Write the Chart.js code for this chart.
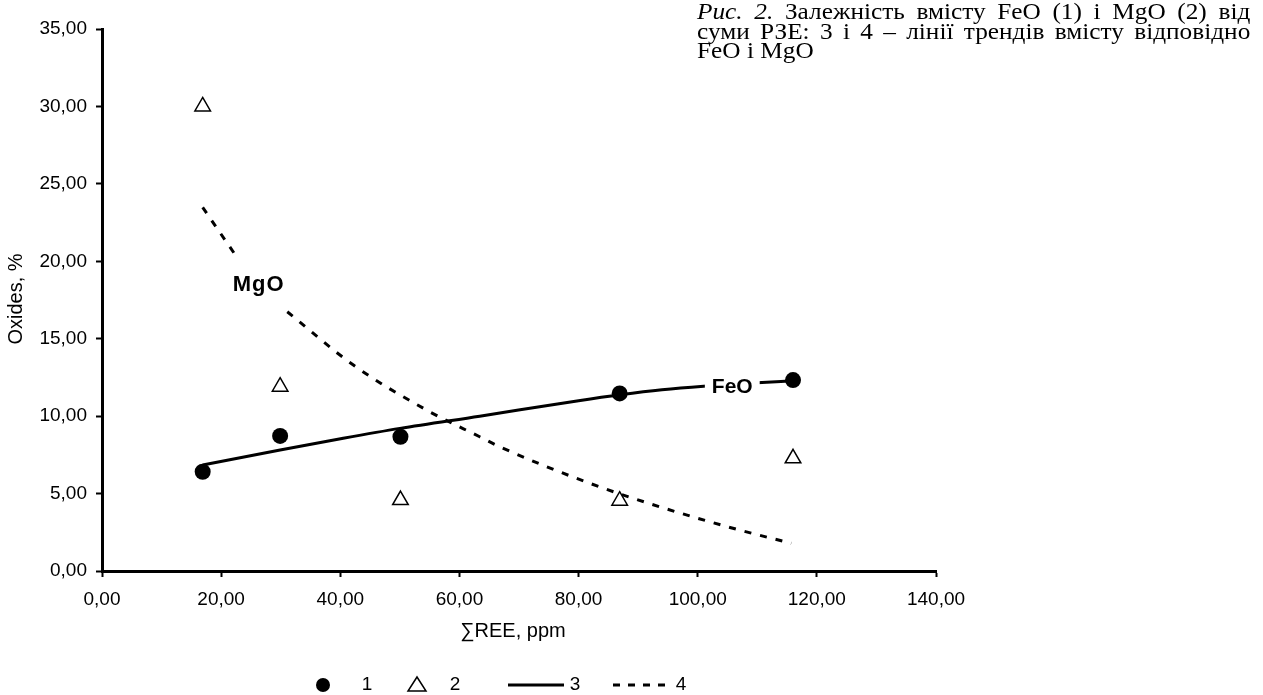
<!DOCTYPE html>
<html>
<head>
<meta charset="utf-8">
<title>FeO MgO vs REE</title>
<script src="https://cdn.jsdelivr.net/npm/chart.js@4.4.1/dist/chart.umd.min.js"></script>
<style>
  html, body { margin: 0; padding: 0; background: #fff; }
  #wrap { position: relative; width: 1263px; height: 695px; }
  #caption {
    position: absolute; left: 697px; top: 2px; width: 503px;
    font-family: "Liberation Serif", "Times New Roman", serif;
    font-size: 23px; line-height: 19.5px; color: #000;
    transform: scaleX(1.1); transform-origin: left top;
  }
  #caption .j { text-align: justify; text-align-last: justify; }
</style>
</head>
<body>
<div id="wrap">
  <canvas id="oxideChart" width="1263" height="695"></canvas>
  <div id="caption">
    <div class="j"><i>Рис. 2.</i> Залежність вмісту FeO (1) і MgO (2) від</div>
    <div class="j">суми РЗЕ: 3 і 4 – лінії трендів вмісту відповідно</div>
    <div>FeO і MgO</div>
  </div>
</div>
<script>
// measured samples
const reeSum = [16.9, 29.9, 50.1, 86.9, 116.0];
const feoValues = [6.41, 8.72, 8.67, 11.47, 12.33];
const mgoValues = [30.0, 11.9, 4.58, 4.54, 7.28];

// trend lines (null = gap under the MgO label)
const feoTrendX = [16.9, 29.9, 40.5, 50.0, 63.4, 80.0, 87.0, 94.0, 101.0, 110.0, 116.0];
const feoTrendY = [6.84, 7.81, 8.57, 9.21, 10.0, 11.0, 11.38, 11.7, 11.93, 12.15, 12.29];
const mgoTrendX = [16.9, 22.9, 27.0, 31.1, 42.2, 54.5, 63.4, 66.8, 81.9, 93.6, 105.9, 115.7];
const mgoTrendY = [23.48, 20.12, null, 16.74, 13.30, 10.39, 8.67, 8.02, 5.66, 4.15, 2.76, 1.79];

const xTickValues = [0, 20, 40, 60, 80, 100, 120, 140];
const yTickValues = [0, 5, 10, 15, 20, 25, 30, 35];
const legendLabels = ['1', '2', '3', '4'];

const sansFont = '"Liberation Sans", Arial, sans-serif';

function toPoints(xs, ys) {
    return xs.map((x, i) => ({ x: x, y: ys[i] }));
}

function formatComma(value) {
    return Number(value).toFixed(2).replace('.', ',');
}

// axis titles, inline curve labels and the bottom legend
const decorPlugin = {
    id: 'decor',
    afterDatasetsDraw(chart) {
        const ctx = chart.ctx;
        const xs = chart.scales.x;
        const ys = chart.scales.y;
        ctx.save();
        ctx.fillStyle = '#000';
        ctx.textBaseline = 'middle';

        // FeO label sits on the trend line with a white box
        ctx.font = 'bold 21px ' + sansFont;
        ctx.textAlign = 'center';
        const fx = xs.getPixelForValue(105.8);
        const fy = ys.getPixelForValue(11.94);
        const fw = ctx.measureText('FeO').width;
        ctx.fillStyle = '#fff';
        ctx.fillRect(fx - fw / 2 - 7, fy - 11, fw + 14, 22);
        ctx.fillStyle = '#000';
        ctx.fillText('FeO', fx, fy + 1);

        // MgO label
        ctx.font = 'bold 22px ' + sansFont;
        ctx.letterSpacing = '1px';
        ctx.fillText('MgO', xs.getPixelForValue(26.3), ys.getPixelForValue(18.5));
        ctx.letterSpacing = '0px';
        ctx.restore();
    },
    afterDraw(chart) {
        const ctx = chart.ctx;
        const area = chart.chartArea;
        ctx.save();
        ctx.fillStyle = '#000';
        ctx.strokeStyle = '#000';
        ctx.textBaseline = 'middle';
        ctx.textAlign = 'center';

        // axis titles
        ctx.font = '20px ' + sansFont;
        ctx.fillText('\u2211REE, ppm', (area.left + area.right) / 2 - 6, 631);
        ctx.save();
        ctx.translate(16, 299);
        ctx.rotate(-Math.PI / 2);
        ctx.fillText('Oxides, %', 0, 0);
        ctx.restore();

        // legend
        const ly = 685;
        ctx.font = '19px ' + sansFont;
        ctx.beginPath();
        ctx.arc(323, ly, 7, 0, Math.PI * 2);
        ctx.fill();
        ctx.fillText(legendLabels[0], 367, ly);

        ctx.lineWidth = 1.5;
        ctx.beginPath();
        ctx.moveTo(417, ly - 8);
        ctx.lineTo(426, ly + 6);
        ctx.lineTo(408, ly + 6);
        ctx.closePath();
        ctx.stroke();
        ctx.fillText(legendLabels[1], 455, ly);

        ctx.lineWidth = 3;
        ctx.beginPath();
        ctx.moveTo(508, ly);
        ctx.lineTo(564, ly);
        ctx.stroke();
        ctx.fillText(legendLabels[2], 575, ly);

        ctx.setLineDash([7, 8]);
        ctx.beginPath();
        ctx.moveTo(613, ly);
        ctx.lineTo(671, ly);
        ctx.stroke();
        ctx.setLineDash([]);
        ctx.fillText(legendLabels[3], 681, ly);
        ctx.restore();
    }
};

const ctx = document.getElementById('oxideChart').getContext('2d');

new Chart(ctx, {
    type: 'scatter',
    data: {
        datasets: [
            {
                label: '1',
                data: toPoints(reeSum, feoValues),
                pointStyle: 'circle',
                pointRadius: 8,
                backgroundColor: '#000',
                borderColor: '#000',
                borderWidth: 0
            },
            {
                label: '2',
                data: toPoints(reeSum, mgoValues),
                pointStyle: 'triangle',
                pointRadius: 9,
                backgroundColor: '#fff',
                borderColor: '#000',
                borderWidth: 1.5
            },
            {
                label: '3',
                data: toPoints(feoTrendX, feoTrendY),
                showLine: true,
                pointRadius: 0,
                borderColor: '#000',
                borderWidth: 3,
                cubicInterpolationMode: 'monotone'
            },
            {
                label: '4',
                data: toPoints(mgoTrendX, mgoTrendY),
                showLine: true,
                spanGaps: false,
                pointRadius: 0,
                borderColor: '#000',
                borderWidth: 3,
                borderDash: [7, 9],
                cubicInterpolationMode: 'monotone'
            }
        ]
    },
    options: {
        responsive: false,
        animation: false,
        layout: { padding: { top: 29, right: 327, bottom: 0, left: 0 } },
        plugins: {
            legend: { display: false },
            tooltip: { enabled: false }
        },
        scales: {
            x: {
                type: 'linear',
                min: 0,
                max: 140,
                afterBuildTicks: s => { s.ticks = xTickValues.map(v => ({ value: v })); },
                afterFit: s => { s.height = 124; },
                ticks: {
                    callback: formatComma,
                    color: '#000',
                    font: { family: sansFont, size: 19 },
                    padding: 11,
                    maxRotation: 0,
                    autoSkip: false
                },
                grid: { drawOnChartArea: false, drawTicks: true, tickLength: 6, tickWidth: 2, tickColor: '#000' },
                border: { display: true, color: '#000', width: 3 }
            },
            y: {
                type: 'linear',
                min: 0,
                max: 35,
                afterBuildTicks: s => { s.ticks = yTickValues.map(v => ({ value: v })); },
                afterFit: s => { s.width = 102; },
                ticks: {
                    callback: formatComma,
                    color: '#000',
                    font: { family: sansFont, size: 19 },
                    padding: 9,
                    autoSkip: false
                },
                grid: { drawOnChartArea: false, drawTicks: true, tickLength: 6, tickWidth: 2, tickColor: '#000' },
                border: { display: true, color: '#000', width: 3 }
            }
        }
    },
    plugins: [decorPlugin]
});
</script>
</body>
</html>
